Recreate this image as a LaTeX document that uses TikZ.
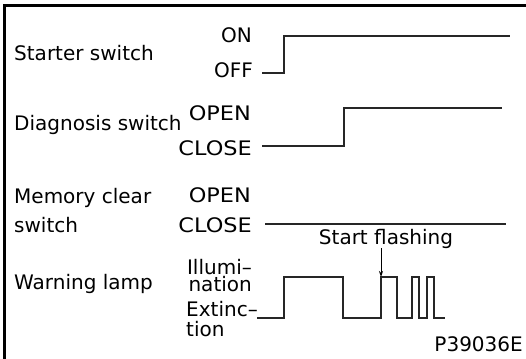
\documentclass[tikz,border=0pt]{standalone}
\usepackage{fontspec}
\setmainfont{DejaVu Sans}
\newfontfamily\widecaps[FakeStretch=1.12]{DejaVu Sans}
\usetikzlibrary{arrows.meta}
\begin{document}
\begin{tikzpicture}[x=1pt,y=-1pt,
  lbl/.style={inner sep=0pt,font=\fontsize{20}{20}\selectfont},
  wlbl/.style={inner sep=0pt,font=\fontsize{20}{20}\widecaps},
  sig/.style={line width=1.4pt,draw=black!85,line join=miter},
  frame/.style={line width=3pt,draw=black}]
\useasboundingbox (0,0) rectangle (526,358);
% frame (left and top edges visible)
\draw[frame] (4,360) -- (4,5.5) -- (528,5.5);
% left labels
\node[lbl,anchor=base west] (starter) at (14,61) {Starter switch};
\node[lbl,anchor=base west] (diag) at (14,131) {Diagnosis switch};
\node[lbl,anchor=base west] (mem1) at (14,203) {Memory clear};
\node[lbl,anchor=base west] (mem2) at (14,232) {switch};
\node[lbl,anchor=base west] (warn) at (14,289) {Warning lamp};
% level labels
\node[lbl,anchor=base east] (on) at (252,43) {ON};
\node[lbl,anchor=base east] (off) at (253,78) {OFF};
\node[wlbl,anchor=base east] (dopen) at (251,121) {OPEN};
\node[wlbl,anchor=base east] (dclose) at (252,155) {CLOSE};
\node[wlbl,anchor=base east] (mopen) at (251,202) {OPEN};
\node[wlbl,anchor=base east] (mclose) at (252,232) {CLOSE};
\node[inner sep=0pt,font=\fontsize{20}{17}\selectfont,align=right,anchor=north east] (illum) at (252,259) {Illumi–\\nation};
\node[lbl,anchor=base west] (extinc) at (186,316) {Extinc–};
\node[lbl,anchor=base west] (tion) at (186,336) {tion};
\node[lbl,anchor=base] (flash) at (386,244) {Start flashing};
\node[lbl,anchor=base east] (code) at (523,351) {P39036E};
% waveforms
\coordinate (s0) at (262,73);
\coordinate (s1) at (510,36);
\draw[sig] (s0) -- (284,73) -- (284,36) -- (s1);
\coordinate (d0) at (262,146);
\coordinate (d1) at (502,108);
\draw[sig] (d0) -- (344,146) -- (344,108) -- (d1);
\coordinate (m0) at (265,224);
\coordinate (m1) at (506,224);
\draw[sig] (m0) -- (m1);
\coordinate (l0) at (257,318);
\coordinate (fl) at (381,277);
\coordinate (l1) at (445,318);
\draw[sig] (l0) -- (284,318) -- (284,277) -- (343,277) -- (343,318)
  -- (381,318) -- (fl) -- (397,277) -- (397,318) -- (412,318) -- (412,277)
  -- (419,277) -- (419,318) -- (427,318) -- (427,277) -- (434,277) -- (434,318) -- (l1);
% arrow
\draw[line width=0.9pt,-{Stealth[length=6pt,width=4pt]}] (381,248) -- (fl);
\end{tikzpicture}
\end{document}
